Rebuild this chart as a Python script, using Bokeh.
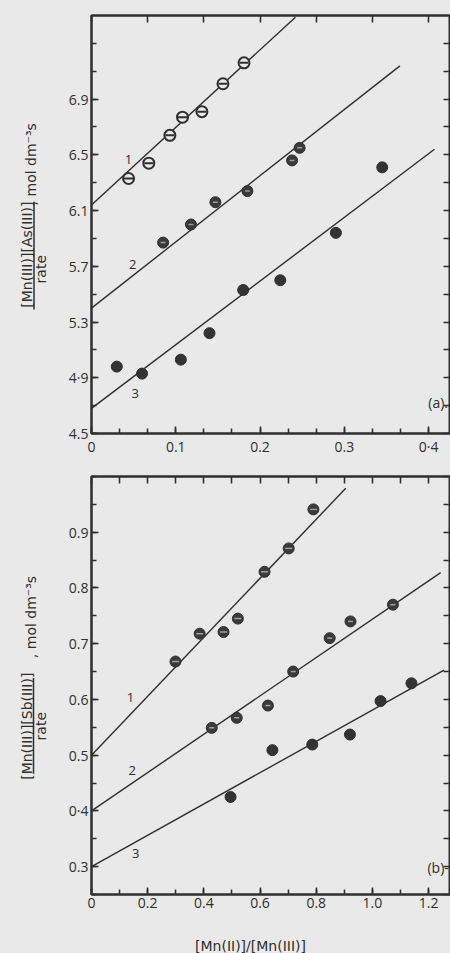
import numpy as np
from bokeh.plotting import figure
from bokeh.layouts import column, row
from bokeh.models import Range1d, LinearAxis, FixedTicker, Label, CustomJSTickFormatter
from bokeh.embed import file_html
from bokeh.resources import INLINE

# ---------------- data: panel (a) ----------------
a_x1 = [0.044, 0.068, 0.093, 0.108, 0.131, 0.156, 0.181]
a_y1 = [6.33, 6.44, 6.64, 6.77, 6.81, 7.01, 7.16]
a_x2 = [0.085, 0.118, 0.147, 0.185, 0.238, 0.247]
a_y2 = [5.87, 6.00, 6.16, 6.24, 6.46, 6.55]
a_x3 = [0.030, 0.060, 0.106, 0.140, 0.180, 0.224, 0.290, 0.345]
a_y3 = [4.98, 4.93, 5.03, 5.22, 5.53, 5.60, 5.94, 6.41]
a_fit_intercept = [6.14, 5.40, 4.68]
a_fit_slope = [5.57, 4.75, 4.57]
a_fit_xend = [0.242, 0.366, 0.407]
a_xticks = [0.0, 0.1, 0.2, 0.3, 0.4]
a_xlabels = ["0", "0.1", "0.2", "0.3", "0·4"]
a_yticks = [4.5, 4.9, 5.3, 5.7, 6.1, 6.5, 6.9]
a_ylabels = ["4.5", "4·9", "5.3", "5.7", "6.1", "6.5", "6.9"]

# ---------------- data: panel (b) ----------------
b_x1 = [0.299, 0.385, 0.470, 0.521, 0.616, 0.702, 0.790]
b_y1 = [0.668, 0.718, 0.721, 0.745, 0.829, 0.871, 0.941]
b_x2 = [0.428, 0.517, 0.628, 0.718, 0.848, 0.922, 1.073]
b_y2 = [0.549, 0.567, 0.589, 0.650, 0.710, 0.740, 0.770]
b_x3 = [0.495, 0.644, 0.786, 0.920, 1.029, 1.139]
b_y3 = [0.425, 0.509, 0.519, 0.537, 0.597, 0.629]
b_fit_intercept = [0.50, 0.40, 0.30]
b_fit_slope = [0.529, 0.344, 0.281]
b_fit_xend = [0.905, 1.243, 1.255]
b_xticks = [0.0, 0.2, 0.4, 0.6, 0.8, 1.0, 1.2]
b_xlabels = ["0", "0.2", "0.4", "0.6", "0.8", "1.0", "1.2"]
b_yticks = [0.3, 0.4, 0.5, 0.6, 0.7, 0.8, 0.9]
b_ylabels = ["0.3", "0·4", "0.5", "0.6", "0.7", "0.8", "0.9"]

# axis titles
a_ytitle_num = "[Mn(III)][As(III)]"
b_ytitle_num = "[Mn(III)][Sb(III)]"
ytitle_den = "rate"
ytitle_unit = ", mol dm\u207b\u00b3s"
xtitle = "[Mn(II)]/[Mn(III)]"

BG = "#e9e9e9"
INK = "#2f2f2f"
FONT = "Open Sans"
LFONT = "DejaVu Sans"
blank = CustomJSTickFormatter(code="return ''")


def style_axis(ax, ticks, minor, labels=None, show_labels=True):
    ax.ticker = FixedTicker(ticks=ticks, minor_ticks=minor)
    ax.axis_line_color = INK
    ax.axis_line_width = 2
    ax.major_tick_line_color = INK
    ax.major_tick_line_width = 1.6
    ax.minor_tick_line_color = INK
    ax.minor_tick_line_width = 1.6
    ax.major_tick_in = 7
    ax.major_tick_out = 0
    ax.minor_tick_in = 5
    ax.minor_tick_out = 0
    if show_labels:
        ax.major_label_text_font = FONT
        ax.major_label_text_font_size = "14px"
        ax.major_label_text_color = INK
        ax.major_label_standoff = 3
        if labels is not None:
            ax.major_label_overrides = {t: l for t, l in zip(ticks, labels)}
    else:
        ax.formatter = CustomJSTickFormatter(code="return ''")
        ax.major_label_standoff = 0


def make_panel(height, top_border, bottom_border, xr, yr):
    p = figure(width=389, height=height, x_range=Range1d(*xr), y_range=Range1d(*yr),
               output_backend="svg", toolbar_location=None,
               min_border_left=30, min_border_right=0,
               min_border_top=top_border, min_border_bottom=bottom_border,
               background_fill_color=BG, border_fill_color=BG)
    p.grid.visible = False
    p.outline_line_color = INK
    p.outline_line_width = 2
    return p


def make_strip(width, height):
    s = figure(width=width, height=height, x_range=Range1d(0, width), y_range=Range1d(height, 0),
               output_backend="svg", toolbar_location=None, x_axis_type=None, y_axis_type=None,
               min_border=0, background_fill_color=BG, border_fill_color=BG)
    s.grid.visible = False
    s.outline_line_color = None
    return s


def add_fits(p, intercepts, slopes, xends):
    for b0, m, xe in zip(intercepts, slopes, xends):
        p.line([0.0, xe], [b0, b0 + m * xe], line_color=INK, line_width=1.4)


def txt(p, x, y, text, size="13px", angle=0.0, align="center", font=FONT):
    p.add_layout(Label(x=x, y=y, text=text, angle=angle, text_font=font,
                       text_font_size=size, text_color=INK, text_align=align,
                       text_baseline="middle"))


# ================= panel (a) =================
pa = make_panel(458, 15, 24, (0.0, 0.426), (4.5, 7.5))
add_fits(pa, a_fit_intercept, a_fit_slope, a_fit_xend)
pa.scatter(a_x1, a_y1, marker="circle", size=11, fill_color=BG, line_color=INK, line_width=2)
pa.scatter(a_x1, a_y1, marker="dash", size=9, line_color=INK, line_width=2)
pa.scatter(a_x2, a_y2, marker="circle", size=11, fill_color="#3a3a3a", line_color=INK, line_width=1)
pa.scatter(a_x2, a_y2, marker="dash", size=5, line_color="#9a9a9a", line_width=1.5)
pa.scatter(a_x3, a_y3, marker="circle", size=11, fill_color="#333333", line_color=INK, line_width=1)

style_axis(pa.xaxis[0], a_xticks, list(np.arange(0, 0.43, 1 / 30)), a_xlabels)
style_axis(pa.yaxis[0], a_yticks, list(np.arange(4.5, 7.51, 0.2)), a_ylabels)
top_a = LinearAxis()
style_axis(top_a, list(np.arange(0, 0.43, 2 / 30)), [], show_labels=False)
pa.add_layout(top_a, "above")
right_a = LinearAxis()
style_axis(right_a, list(np.arange(4.5, 7.51, 0.2)), [], show_labels=False)
pa.add_layout(right_a, "right")

txt(pa, 0.044, 6.47, "1")
txt(pa, 0.049, 5.71, "2")
txt(pa, 0.052, 4.79, "3")
txt(pa, 0.423, 4.72, "(a).", size="14px", align="right")

la = make_strip(61, 458)
txt(la, 26.5, 262, a_ytitle_num, size="14px", angle=np.pi / 2, font=LFONT)
la.line([33.5, 33.5], [204, 322], line_color=INK, line_width=1.5)
txt(la, 40.5, 278, ytitle_den, size="14px", angle=np.pi / 2, font=LFONT)
txt(la, 30, 163, ytitle_unit, size="14px", angle=np.pi / 2, font=LFONT)

# ================= panel (b) =================
pb = make_panel(467, 18, 31, (0.0, 1.278), (0.25, 1.0))
add_fits(pb, b_fit_intercept, b_fit_slope, b_fit_xend)
pb.scatter(b_x1, b_y1, marker="circle", size=11, fill_color="#3a3a3a", line_color=INK, line_width=1)
pb.scatter(b_x1, b_y1, marker="dash", size=7, line_color="#a0a0a0", line_width=1.5)
pb.scatter(b_x2, b_y2, marker="circle", size=11, fill_color="#3a3a3a", line_color=INK, line_width=1)
pb.scatter(b_x2, b_y2, marker="dash", size=5, line_color="#a0a0a0", line_width=1.5)
pb.scatter(b_x3, b_y3, marker="circle", size=11, fill_color="#333333", line_color=INK, line_width=1)

style_axis(pb.xaxis[0], b_xticks, list(np.arange(0, 1.28, 0.1)), b_xlabels)
style_axis(pb.yaxis[0], b_yticks, list(np.arange(0.25, 1.001, 0.05)), b_ylabels)
top_b = LinearAxis()
style_axis(top_b, list(np.arange(0, 1.28, 0.1)), [], show_labels=False)
pb.add_layout(top_b, "above")
right_b = LinearAxis()
style_axis(right_b, list(np.arange(0.25, 1.001, 0.05)), [], show_labels=False)
pb.add_layout(right_b, "right")

txt(pb, 0.139, 0.604, "1")
txt(pb, 0.145, 0.473, "2")
txt(pb, 0.157, 0.324, "3")
txt(pb, 1.272, 0.298, "(b)-", size="14px", align="right")

lb = make_strip(61, 467)
txt(lb, 26.5, 279, b_ytitle_num, size="14px", angle=np.pi / 2, font=LFONT)
lb.line([33, 33], [225, 332], line_color=INK, line_width=1.5)
txt(lb, 40.5, 279, ytitle_den, size="14px", angle=np.pi / 2, font=LFONT)
txt(lb, 30, 157, ytitle_unit, size="14px", angle=np.pi / 2, font=LFONT)

# x-axis title strip
sx = make_strip(450, 28)
txt(sx, 250, 20, xtitle, size="14px", font=LFONT)

layout = column(row(la, pa, spacing=0), row(lb, pb, spacing=0), sx, spacing=0,
                styles={"background-color": BG})
html = file_html(layout, INLINE)
html = html.replace("<body>", '<body style="background-color:%s">' % BG)
open("out.html", "w").write(html)
